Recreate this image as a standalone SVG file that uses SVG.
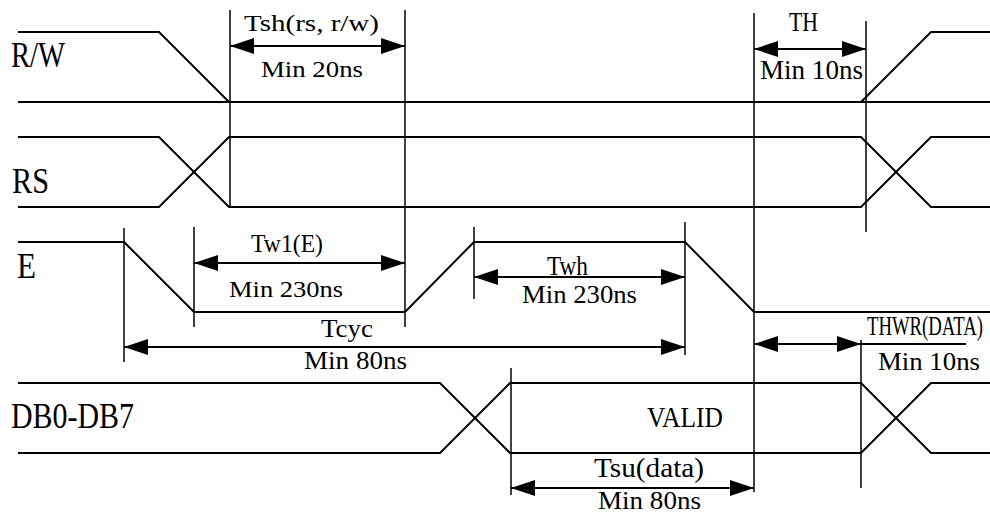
<svg xmlns="http://www.w3.org/2000/svg" width="990" height="514" viewBox="0 0 990 514">
  <style>
    .sig { fill: none; stroke: #000; stroke-width: 2; stroke-linejoin: miter; }
    .guide { fill: none; stroke: #000; stroke-width: 1.5; }
    .dim { fill: none; stroke: #000; stroke-width: 2; marker-start: url(#head); marker-end: url(#head); }
    .lbl { font-family: "Liberation Serif", "DejaVu Serif", serif; font-size: 35px; fill: #000; }
    .txt { font-family: "Liberation Serif", "DejaVu Serif", serif; font-size: 24px; fill: #000; }
  </style>
  <defs>
    <marker id="head" viewBox="0 0 24 16" refX="24" refY="8" markerWidth="24" markerHeight="16" markerUnits="userSpaceOnUse" orient="auto-start-reverse">
      <path d="M0,0 L24,8 L0,16 z" fill="#000"/>
    </marker>
  </defs>
  <rect width="990" height="514" fill="#fff"/>

  <!-- signal names -->
  <g id="names">
    <text class="lbl" x="11" y="67" textLength="54" lengthAdjust="spacingAndGlyphs">R/W</text>
    <text class="lbl" x="12" y="193" textLength="37" lengthAdjust="spacingAndGlyphs">RS</text>
    <text class="lbl" x="17" y="278" textLength="19" lengthAdjust="spacingAndGlyphs">E</text>
    <text class="lbl" x="11" y="428" textLength="123" lengthAdjust="spacingAndGlyphs">DB0-DB7</text>
  </g>

  <!-- waveforms -->
  <g id="sig-rw">
    <polyline class="sig" points="18,32 159,32 229,102"/>
    <line class="sig" x1="18" y1="102" x2="990" y2="102"/>
    <polyline class="sig" points="861,102 931,32 990,32"/>
  </g>
  <g id="sig-rs">
    <polyline class="sig" points="18,137 159,137 229,207 861,207 931,137 990,137"/>
    <polyline class="sig" points="18,207 159,207 229,137 861,137 931,207 990,207"/>
  </g>
  <g id="sig-e">
    <polyline class="sig" points="18,242 124,242 194,312 405,312 474,242 685,242 754,312 990,312"/>
  </g>
  <g id="sig-db">
    <polyline class="sig" points="18,383 440,383 510,453 861,453 931,383 990,383"/>
    <polyline class="sig" points="18,453 440,453 510,383 861,383 931,453 990,453"/>
  </g>

  <!-- reference lines and dimension arrows -->
  <g id="connectors">
    <line class="guide" x1="230" y1="10" x2="230" y2="207"/>
    <line class="guide" x1="405" y1="10" x2="405" y2="327"/>
    <line class="guide" x1="754" y1="13" x2="754" y2="492"/>
    <line class="guide" x1="866" y1="21" x2="866" y2="232"/>
    <line class="guide" x1="124" y1="228" x2="124" y2="362"/>
    <line class="guide" x1="194" y1="227" x2="194" y2="327"/>
    <line class="guide" x1="474" y1="227" x2="474" y2="299"/>
    <line class="guide" x1="685" y1="222" x2="685" y2="355"/>
    <line class="guide" x1="861" y1="340" x2="861" y2="488"/>
    <line class="guide" x1="511" y1="368" x2="511" y2="495"/>

    <line class="dim" x1="230" y1="46" x2="405" y2="46"/>
    <line class="dim" x1="754" y1="49" x2="866" y2="49"/>
    <line class="dim" x1="194" y1="263" x2="405" y2="263"/>
    <line class="dim" x1="474" y1="277" x2="685" y2="277"/>
    <line class="dim" x1="124" y1="347" x2="685" y2="347"/>
    <line class="dim" x1="754" y1="344" x2="861" y2="344"/>
    <line class="sig" x1="861" y1="344" x2="966" y2="344"/>
    <line class="dim" x1="511" y1="488" x2="754" y2="488"/>
  </g>

  <!-- timing labels -->
  <g id="labels">
    <text class="txt" x="244" y="31" textLength="135" lengthAdjust="spacingAndGlyphs">Tsh(rs, r/w)</text>
    <text class="txt" x="261" y="77" style="font-size:23px" textLength="102" lengthAdjust="spacingAndGlyphs">Min 20ns</text>
    <text class="txt" x="789" y="31" style="font-size:28px" textLength="29" lengthAdjust="spacingAndGlyphs">TH</text>
    <text class="txt" x="760" y="79" style="font-size:27px" textLength="103" lengthAdjust="spacingAndGlyphs">Min 10ns</text>
    <text class="txt" x="251" y="252" style="font-size:25px" textLength="72" lengthAdjust="spacingAndGlyphs">Tw1(E)</text>
    <text class="txt" x="229" y="297" style="font-size:23px" textLength="114" lengthAdjust="spacingAndGlyphs">Min 230ns</text>
    <text class="txt" x="321" y="337" style="font-size:25px" textLength="52" lengthAdjust="spacingAndGlyphs">Tcyc</text>
    <text class="txt" x="304" y="369" style="font-size:25px" textLength="103" lengthAdjust="spacingAndGlyphs">Min 80ns</text>
    <text class="txt" x="547" y="275" style="font-size:27px" textLength="41" lengthAdjust="spacingAndGlyphs">Twh</text>
    <text class="txt" x="522" y="303" style="font-size:26px" textLength="115" lengthAdjust="spacingAndGlyphs">Min 230ns</text>
    <text class="txt" x="647" y="427" style="font-size:29px" textLength="76" lengthAdjust="spacingAndGlyphs">VALID</text>
    <text class="txt" x="594" y="477" style="font-size:28px" textLength="110" lengthAdjust="spacingAndGlyphs">Tsu(data)</text>
    <text class="txt" x="598" y="509" style="font-size:26px" textLength="103" lengthAdjust="spacingAndGlyphs">Min 80ns</text>
    <text class="txt" x="867" y="335" style="font-size:28px" textLength="116" lengthAdjust="spacingAndGlyphs">THWR(DATA)</text>
    <text class="txt" x="878" y="370" style="font-size:26px" textLength="102" lengthAdjust="spacingAndGlyphs">Min 10ns</text>
  </g>
</svg>
